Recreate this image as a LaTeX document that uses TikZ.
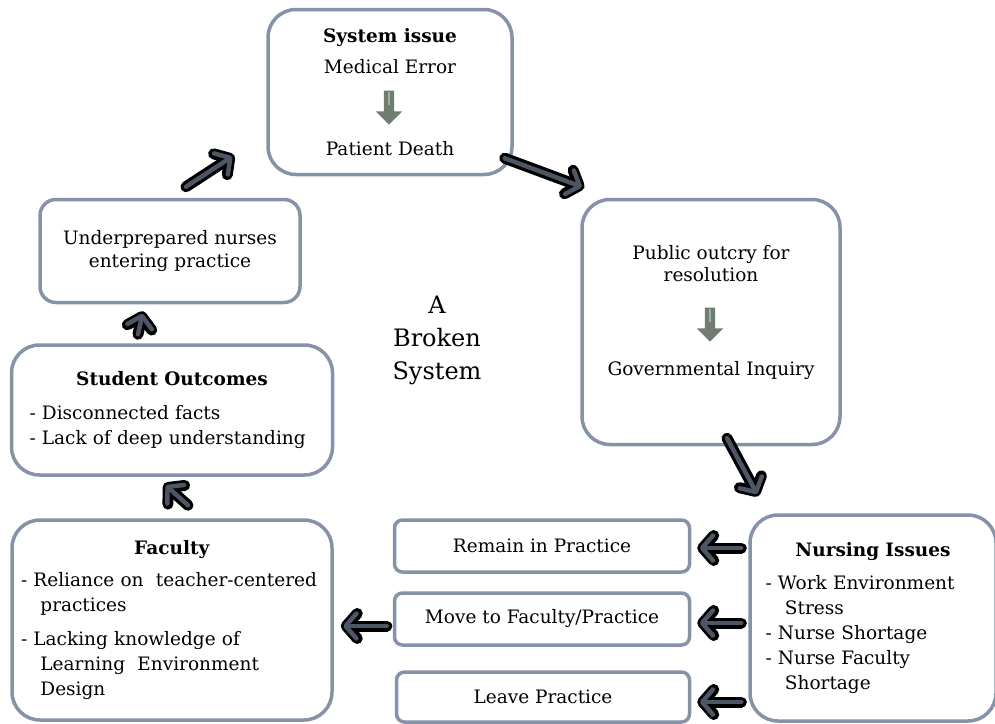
\documentclass[tikz,border=0pt]{standalone}
\usepackage{fontspec}
\setmainfont{DejaVu Serif}
\usetikzlibrary{arrows.meta, positioning, shapes.arrows}

\definecolor{boxline}{RGB}{133,146,168}
\definecolor{arrowfill}{RGB}{76,86,101}
\definecolor{downfill}{RGB}{112,126,112}
\definecolor{downlight}{RGB}{160,176,160}

\newcommand{\contline}{\hspace*{1.05em}}

\tikzset{
  stage/.style={draw=boxline, line width=3.5pt, rounded corners=28pt, fill=white,
    inner sep=0pt, font=\fontsize{18.5}{25}\selectfont},
  choice/.style={stage, rounded corners=8pt, align=center},
  bigarrow/.style={black, line width=11pt, line cap=round, line join=round,
    -{Straight Barb[length=11pt, width=25pt, round]},
    postaction={draw=arrowfill, line width=4.5pt, shorten >=2.5pt,
      -{Straight Barb[length=11pt, width=25pt, round]}}},
  downarrow/.style={single arrow, fill=downfill, draw=none, inner sep=5pt,
    minimum height=34pt, single arrow head extend=8pt, shape border rotate=270},
  downstripe/.style={draw=downlight, line width=2.5pt}
}

\begin{document}
\begin{tikzpicture}[x=1pt, y=-1pt]
\useasboundingbox (0,0) rectangle (995,723);

% main stages of the cycle
\node (sys) [stage, minimum width=244pt, minimum height=165pt, align=center] at (390,92)
  {\textbf{System issue}\\[6pt] Medical Error\\[57pt] Patient Death};
\node (sysdown) [downarrow] at (389,105) {};
\draw[downstripe] ([yshift=-2pt]sysdown.tail) -- (sysdown.center);

\node (pub) [stage, minimum width=258pt, minimum height=245pt, align=center] at (711,322)
  {Public outcry for\\[-3pt] resolution\\[69pt] Governmental Inquiry\\[-1pt]};
\node (pubdown) [downarrow] at (710,322) {};
\draw[downstripe] ([yshift=-2pt]pubdown.tail) -- (pubdown.center);

\node (nurse) [stage, minimum width=246pt, minimum height=206pt, text width=215pt] at (873,618)
  {{\centering\textbf{Nursing Issues}\par}\vspace{8pt}
   -\ Work Environment\\ \contline Stress\\ -\ Nurse Shortage\\ -\ Nurse Faculty\\ \contline Shortage};

\node (remain) [choice, minimum width=295pt, minimum height=52pt] at (542,546) {Remain in Practice};
\node (move) [choice, minimum width=295pt, minimum height=52pt] at (542,619) {Move to Faculty/Practice};
\node (leave) [choice, minimum width=293pt, minimum height=50pt] at (543,697) {Leave Practice};

\node (fac) [stage, minimum width=320pt, minimum height=200pt, text width=302pt] at (172,620)
  {{\centering\textbf{Faculty}\par}\vspace{7pt}
   -\ Reliance on\ \ teacher-centered\\ \contline practices\par\vspace{9pt}
   -\ Lacking knowledge of\\ \contline Learning\ \ Environment\\ \contline Design};

\node (stud) [stage, minimum width=321pt, minimum height=130pt, text width=285pt] at (172,410)
  {{\centering\textbf{Student Outcomes}\par}\vspace{9pt}
   -\ Disconnected facts\\ -\ Lack of deep understanding};

\node (under) [stage, rounded corners=16pt, minimum width=260pt, minimum height=103pt, align=center] at (170,251)
  {Underprepared nurses\\[-2pt] entering practice};

\node (title) [align=center, font=\fontsize{24}{33}\selectfont] at (437,340) {A\\ Broken\\ System};

% arrows round the cycle
\draw[bigarrow] ([shift={(16,-11)}]under.north) -- ([shift={(-32,-21)}]sys.south west);
\draw[bigarrow] ([shift={(-9,-18)}]sys.south east) -- ([shift={(4,-10)}]pub.north west);
\draw[bigarrow] ([shift={(16,-8)}]pub.south) -- ([shift={(10,-17)}]nurse.north west);
\draw[bigarrow] ([xshift=-7pt, yshift=-2pt]nurse.west |- remain.east) -- ([xshift=6pt, yshift=-2pt]remain.east);
\draw[bigarrow] ([xshift=-7pt, yshift=-4pt]nurse.west |- move.east) -- ([xshift=6pt, yshift=-4pt]move.east);
\draw[bigarrow] ([xshift=-7pt, yshift=-5pt]nurse.west |- leave.east) -- ([xshift=6pt, yshift=-5pt]leave.east);
\draw[bigarrow] ([xshift=-6pt, yshift=-7pt]move.west) -- ([xshift=7pt, yshift=-7pt]fac.east |- move.west);
\draw[bigarrow] ([shift={(16,-13)}]fac.north) -- ([shift={(-8,7)}]stud.south);
\draw[bigarrow] ([shift={(-34,-9)}]stud.north) -- ([shift={(-27,7)}]under.south);
\end{tikzpicture}
\end{document}
